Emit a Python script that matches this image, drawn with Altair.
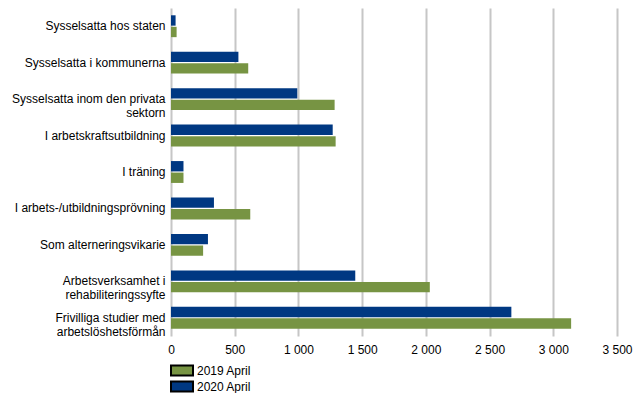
import altair as alt
import pandas as pd

categories = [
    "Sysselsatta hos staten",
    "Sysselsatta i kommunerna",
    "Sysselsatta inom den privata\nsektorn",
    "I arbetskraftsutbildning",
    "I träning",
    "I arbets-/utbildningsprövning",
    "Som alterneringsvikarie",
    "Arbetsverksamhet i\nrehabiliteringssyfte",
    "Frivilliga studier med\narbetslöshetsförmån",
]
series = ["2019 April", "2020 April"]
values_2019 = [44, 606, 1284, 1292, 98, 622, 252, 2031, 3140]
values_2020 = [36, 529, 991, 1269, 98, 337, 290, 1446, 2671]
colors = ["#779443", "#003882"]

rows = []
for c, v in zip(categories, values_2019):
    rows.append({"kategori": c, "serie": series[0], "antal": v})
for c, v in zip(categories, values_2020):
    rows.append({"kategori": c, "serie": series[1], "antal": v})
df = pd.DataFrame(rows)

font = "Liberation Sans"

chart = alt.Chart(df).mark_bar().encode(
    y=alt.Y(
        "kategori:N",
        sort=categories,
        title=None,
        scale=alt.Scale(paddingInner=0.4, paddingOuter=0.2),
        axis=alt.Axis(
            labelExpr="split(datum.label, '\\n')",
            labelFontSize=12,
            labelFont=font,
            labelColor="#000000",
            labelPadding=6,
            labelLineHeight=14,
            ticks=False,
            domain=False,
            labelLimit=300,
        ),
    ),
    x=alt.X(
        "antal:Q",
        title=None,
        scale=alt.Scale(domain=[0, 3500], nice=False),
        axis=alt.Axis(
            values=[0, 500, 1000, 1500, 2000, 2500, 3000, 3500],
            labelExpr="replace(format(datum.value, ','), ',', ' ')",
            labelFontSize=12,
            labelFont=font,
            labelColor="#000000",
            labelPadding=8,
            labelFlush=False,
            grid=True,
            gridColor="#c6c6c6",
            gridWidth=2,
            ticks=False,
            domain=False,
        ),
    ),
    yOffset=alt.YOffset("serie:N", sort=["2020 April", "2019 April"],
                        scale=alt.Scale(paddingInner=0.1)),
    color=alt.Color(
        "serie:N",
        scale=alt.Scale(domain=series, range=colors),
        legend=alt.Legend(
            title=None,
            orient="none",
            legendX=-1,
            legendY=356,
            direction="vertical",
            symbolType="M-1,-0.9H3V0.9H-1Z",
            symbolSize=121,
            symbolStrokeColor="#000000",
            symbolStrokeWidth=2,
            symbolOpacity=1,
            labelFontSize=12,
            labelFont=font,
            labelColor="#000000",
            labelOffset=14,
            rowPadding=-4,
        ),
    ),
).properties(
    width=446,
    height=328,
    autosize=alt.AutoSizeParams(type="none"),
    padding={"left": 163, "top": 0, "right": 16, "bottom": 57},
).configure_view(stroke=None)

chart.save("out.html", embed_options={"renderer": "svg", "actions": False})
